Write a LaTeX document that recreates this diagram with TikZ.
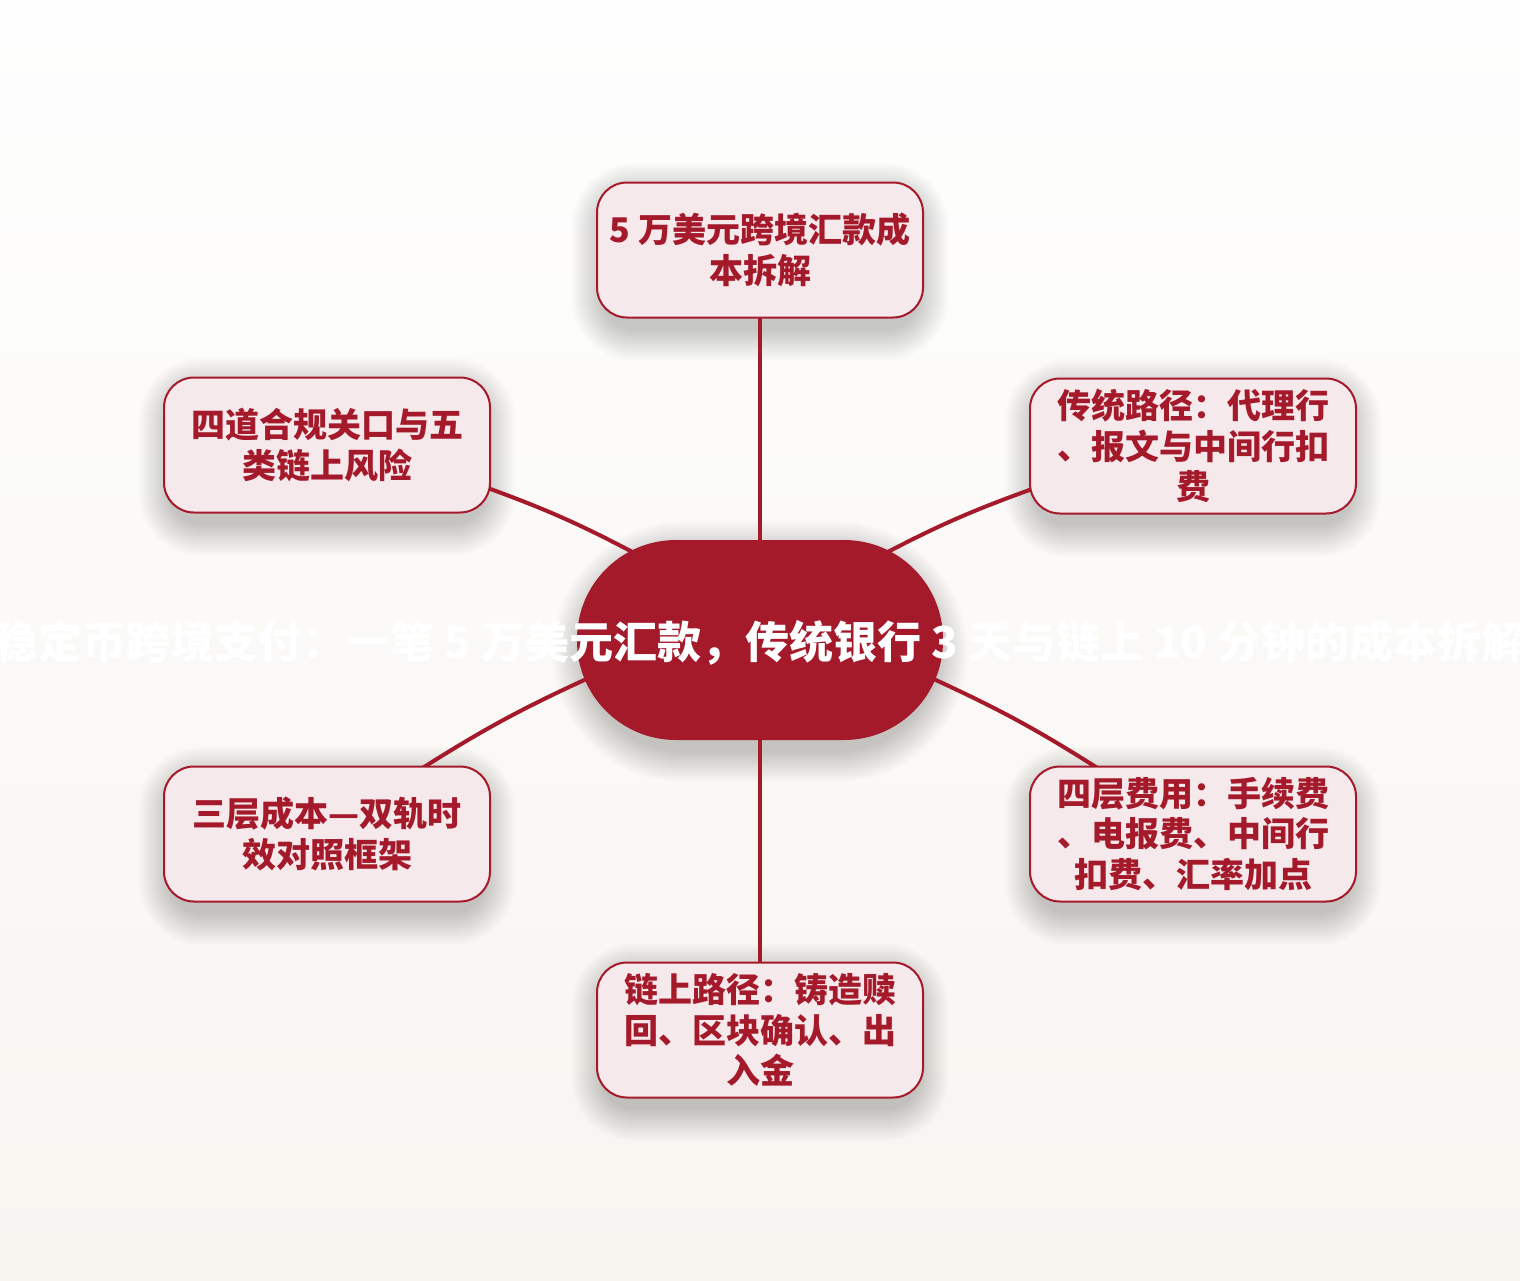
\documentclass[tikz,border=0pt]{standalone}
\usepackage{fontspec}
\newfontfamily\cjk{Noto Sans CJK SC}
\usetikzlibrary{calc}
\definecolor{mainred}{HTML}{A51A2B}
\definecolor{boxfill}{HTML}{F6E9EC}
\definecolor{bgtop}{HTML}{FEFEFE}
\definecolor{bgbot}{HTML}{F7F5F0}
\pgfdeclarelayer{back}
\pgfdeclarelayer{shade}
\pgfdeclarelayer{edges}
\pgfsetlayers{back,shade,edges,main}
\newcommand\softshadow[2]{%
  \foreach \k in {1,...,18} {%
    \fill[black, opacity=0.010, rounded corners={(#2+1.8*\k)*1pt}]
      ($(#1.south west)+({(-1.8*\k+8)*1pt},{(-1.8*\k-10)*1pt})$) rectangle
      ($(#1.north east)+({(1.8*\k-8)*1pt},{(1.8*\k-14)*1pt})$);
  }}
\begin{document}
\begin{tikzpicture}[x=1pt,y=1pt,
  box/.style={draw=mainred, line width=2pt, fill=boxfill, rounded corners=30pt,
    minimum width=326pt, minimum height=135pt, inner sep=0pt, align=center,
    text=mainred, font=\cjk\bfseries\fontsize{34}{40.5}\selectfont},
  hub/.style={fill=mainred, rounded corners=99pt, minimum width=366pt, minimum height=200pt,
    inner sep=0pt},
  titletext/.style={text=white, inner sep=0pt, yshift=-3pt, font=\cjk\bfseries\fontsize{44}{50}\selectfont},
  link/.style={draw=mainred, line width=4pt, line cap=round}]
\begin{pgfonlayer}{back}
\shade[top color=bgtop, bottom color=bgbot] (0,0) rectangle (1520,-1280);
\end{pgfonlayer}
\useasboundingbox (0,0) rectangle (1520,-1280);

\node[hub, label={[titletext]center:稳定币跨境支付：一笔 5 万美元汇款，传统银行 3 天与链上 10 分钟的成本拆解}] (c) at (760,-640) {};

\node[box] (t) at (760,-250) {5 万美元跨境汇款成\\本拆解};
\node[box] (ur) at (1193,-446) {传统路径：代理行\\、报文与中间行扣\\费};
\node[box] (lr) at (1193,-834) {四层费用：手续费\\、电报费、中间行\\扣费、汇率加点};
\node[box] (b) at (760,-1030) {链上路径：铸造赎\\回、区块确认、出\\入金};
\node[box] (ul) at (327,-445) {四道合规关口与五\\类链上风险};
\node[box] (ll) at (327,-834) {三层成本—双轨时\\效对照框架};

\begin{pgfonlayer}{shade}
\softshadow{c}{99}
\softshadow{t}{30}
\softshadow{ur}{30}
\softshadow{lr}{30}
\softshadow{b}{30}
\softshadow{ul}{30}
\softshadow{ll}{30}
\end{pgfonlayer}

\begin{pgfonlayer}{edges}
\draw[link] (c.center) -- (t.center);
\draw[link] (c.center) -- (b.center);
\draw[link] ($(c.center)+(120,84)$) to[bend left=4] ($(ur.west)+(6,-42)$);
\draw[link] ($(c.center)+(-120,84)$) to[bend right=4] ($(ul.east)+(-6,-42)$);
\draw[link] ($(c.center)+(167,-36)$) to[bend left=4] ($(lr.north west)+(74,-6)$);
\draw[link] ($(c.center)+(-167,-36)$) to[bend right=4] ($(ll.north east)+(-74,-6)$);
\end{pgfonlayer}
\end{tikzpicture}
\end{document}
